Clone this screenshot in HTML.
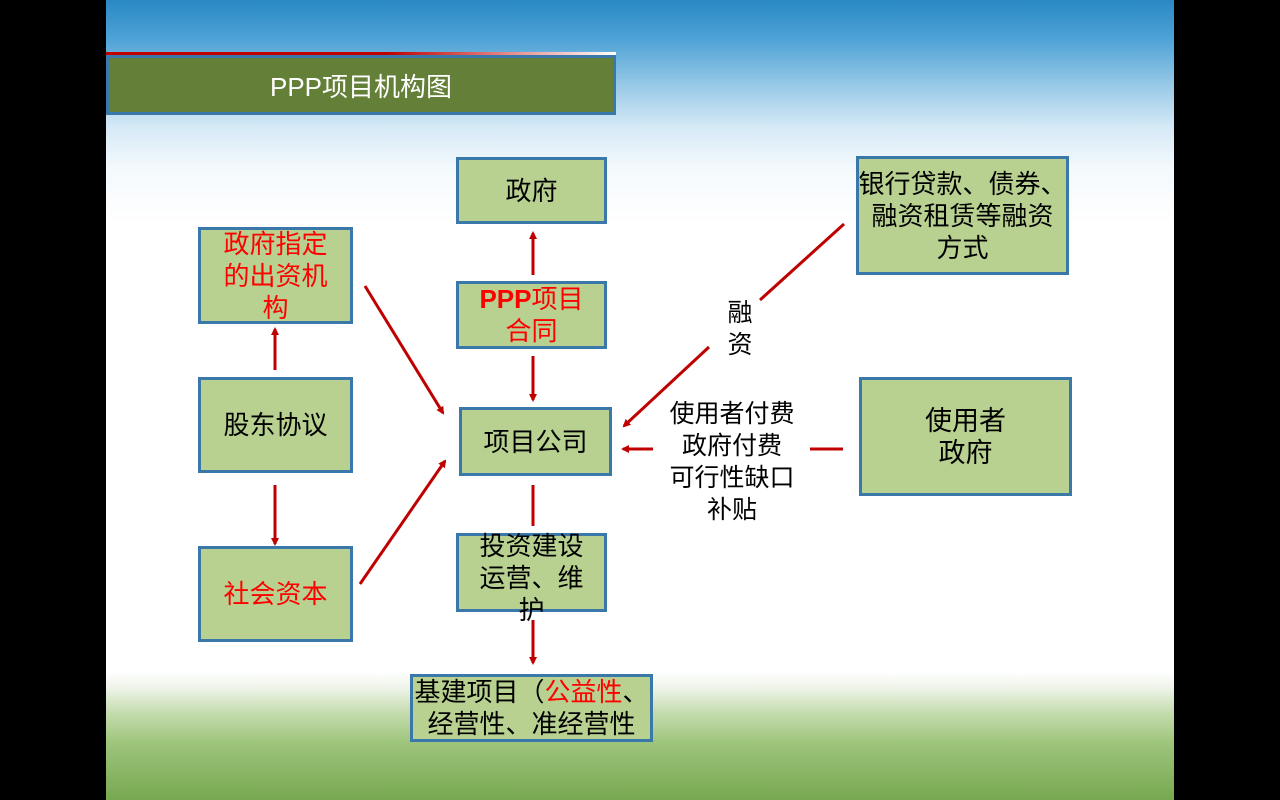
<!DOCTYPE html>
<html><head><meta charset="utf-8"><style>
*{margin:0;padding:0;box-sizing:border-box}
body{width:1280px;height:800px;background:#000;position:relative;overflow:hidden;font-family:"Liberation Sans","Noto Sans CJK SC",sans-serif}
#slide{position:absolute;left:106px;top:0;width:1068px;height:800px;overflow:hidden;
background:linear-gradient(180deg,#2a88c4 0%,#4fa3d6 5%,#9ccbe8 11%,#d6eaf6 16%,#f4f9fc 21%,#fff 28%,#fff 84%,#eef4e8 86%,#c6ddb0 89%,#9cc47a 93%,#78a851 100%)}
.b{position:absolute;background:#b8d190;border:3px solid #3b78aa;display:flex;align-items:center;justify-content:center;text-align:center;font-size:26px;line-height:32px;color:#000;white-space:nowrap}
.r{color:#f00}
.t{position:absolute;font-size:25px;line-height:32px;text-align:center;color:#000;white-space:nowrap}
</style></head><body>
<div id="slide">
<div style="position:absolute;left:0;top:52px;width:510px;height:3px;background:linear-gradient(90deg,#c00000 0%,#c00000 55%,#e89090 80%,#fff 100%)"></div>
<div style="position:absolute;left:0;top:55px;width:510px;height:60px;background:#647f38;border:3px solid #3b78aa;color:#fff;font-size:26px;display:flex;align-items:center;justify-content:center">PPP项目机构图</div>
</div>
<div class="b" style="left:456px;top:157px;width:151px;height:67px"><div>政府</div></div>
<div class="b" style="left:456px;top:281px;width:151px;height:68px"><div class="r"><b style="font-family:'Liberation Sans',sans-serif">PPP</b>项目<br>合同</div></div>
<div class="b" style="left:459px;top:407px;width:153px;height:69px"><div>项目公司</div></div>
<div class="b" style="left:456px;top:533px;width:151px;height:79px;align-items:flex-start;overflow:visible"><div style="margin-top:-6px">投资建设<br>运营、维<br>护</div></div>
<div class="b" style="left:410px;top:674px;width:243px;height:68px;overflow:visible"><div>基建项目（<span class="r">公益性</span>、<br>经营性、准经营性</div></div>
<div class="b" style="left:198px;top:227px;width:155px;height:97px"><div class="r">政府指定<br>的出资机<br>构</div></div>
<div class="b" style="left:198px;top:377px;width:155px;height:96px"><div>股东协议</div></div>
<div class="b" style="left:198px;top:546px;width:155px;height:96px"><div class="r">社会资本</div></div>
<div class="b" style="left:856px;top:156px;width:213px;height:119px;overflow:visible"><div>银行贷款、债券、<br>融资租赁等融资<br>方式</div></div>
<div class="b" style="left:859px;top:377px;width:213px;height:119px;font-size:27px"><div>使用者<br>政府</div></div>
<div class="t" style="left:720px;top:297px;width:40px">融<br>资</div>
<div class="t" style="left:652px;top:398px;width:160px">使用者付费<br>政府付费<br>可行性缺口<br>补贴</div>
<svg width="1280" height="800" style="position:absolute;left:0;top:0">
<defs><marker id="a" markerWidth="8" markerHeight="8" refX="6" refY="4" orient="auto" markerUnits="userSpaceOnUse"><path d="M0,0 L8,4 L0,8 Z" fill="#c00000"/></marker></defs>
<g stroke="#c00000" stroke-width="3" fill="none">
<line x1="533" y1="275" x2="533" y2="233" marker-end="url(#a)"/>
<line x1="533" y1="356" x2="533" y2="400" marker-end="url(#a)"/>
<line x1="533" y1="485" x2="533" y2="526"/>
<line x1="533" y1="620" x2="533" y2="663" marker-end="url(#a)"/>
<line x1="275" y1="370" x2="275" y2="329" marker-end="url(#a)"/>
<line x1="275" y1="485" x2="275" y2="544" marker-end="url(#a)"/>
<line x1="365" y1="286" x2="443" y2="413" marker-end="url(#a)"/>
<line x1="360" y1="584" x2="445" y2="461" marker-end="url(#a)"/>
<line x1="844" y1="224" x2="760" y2="300"/>
<line x1="709" y1="347" x2="624" y2="426" marker-end="url(#a)"/>
<line x1="843" y1="449" x2="810" y2="449"/>
<line x1="653" y1="449" x2="623" y2="449" marker-end="url(#a)"/>
</g></svg>
</body></html>
